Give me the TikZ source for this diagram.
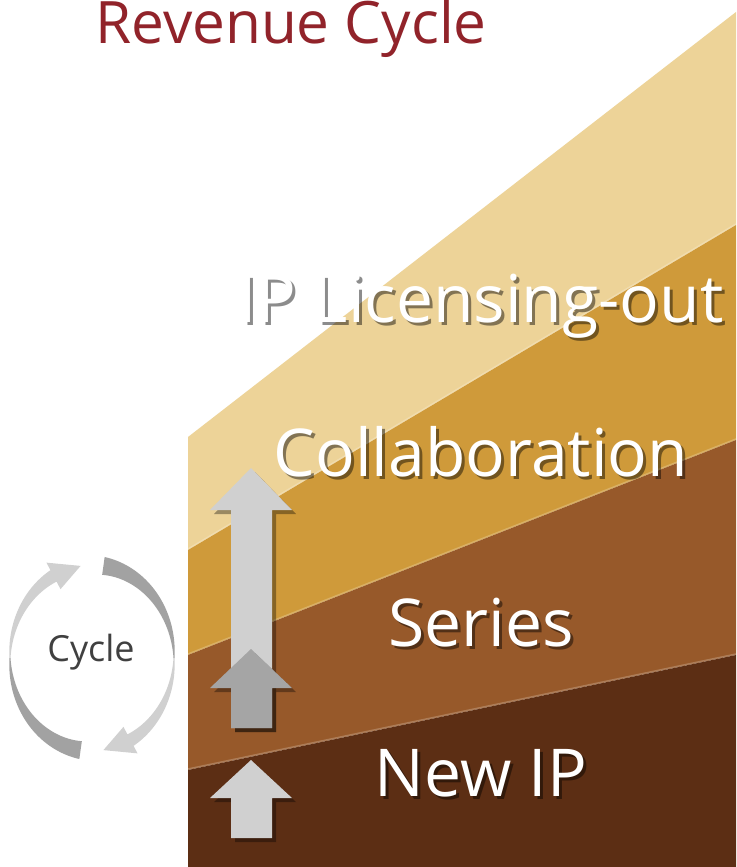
\documentclass[tikz,border=0pt]{standalone}
\usepackage{fontspec}
\setmainfont{Open Sans}
\usetikzlibrary{calc}

\definecolor{titlered}{RGB}{145,35,42}
\definecolor{bandlight}{RGB}{237,211,152}
\definecolor{bandgold}{RGB}{207,154,58}
\definecolor{bandbrown}{RGB}{151,89,42}
\definecolor{banddark}{RGB}{92,46,20}
\definecolor{arrowlight}{RGB}{208,208,208}
\definecolor{arrowdark}{RGB}{165,165,165}
\definecolor{cycledark}{RGB}{162,162,162}
\definecolor{cyclelight}{RGB}{208,208,208}

% white label with a soft dark copy behind it
\newcommand\castlabel[1]{%
  \makebox[0pt][l]{\kern3pt\raisebox{-3pt}{%
    \pgfsetfillopacity{0.45}\color{black}#1\pgfsetfillopacity{1}}}%
  \color{white}#1}

\begin{document}
\begin{tikzpicture}[x=1pt, y=-1pt,
    stage/.style={anchor=base, inner sep=0pt,
      font=\fontsize{66}{70}\selectfont},
    blockarrow/.style={fill=#1},
    arrowshadow/.style={fill=black, opacity=0.35},
    bevel/.style={draw=white, opacity=0.22, line width=1.5pt}
  ]
  \useasboundingbox (0,0) rectangle (736,867);
  \fill[white] (0,0) rectangle (736,867);

  % Title
  \node[text=titlered, anchor=base west, inner sep=0pt,
    font=\fontsize{58.5}{60}\selectfont] (title) at (95,44) {Revenue Cycle};

  % Rising bands
  \begin{scope}
    \clip (0,0) rectangle (736,867);
    \fill[bandlight] (188,437) -- (736,12) -- (736,225) -- (188,550) -- cycle;
    \fill[bandgold] (188,550) -- (736,225) -- (736,440) -- (188,655) -- cycle;
    \fill[bandbrown] (188,655) -- (736,440) -- (736,655) -- (188,770) -- cycle;
    \fill[banddark] (188,770) -- (736,655) -- (736,867) -- (188,867) -- cycle;
    \draw[bevel] (188,549) -- (736,224);
    \draw[bevel] (188,654) -- (736,439);
    \draw[bevel] (188,769) -- (736,654);
  \end{scope}

  % Block arrows (shadow first)
  \fill[arrowshadow] (255,472) -- (296,514) -- (276,514) -- (276,732)
    -- (235,732) -- (235,514) -- (214,514) -- cycle;
  \fill[blockarrow=arrowlight] (251,468) -- (292,510) -- (272,510) -- (272,728)
    -- (231,728) -- (231,510) -- (210,510) -- cycle;
  \fill[arrowshadow] (255,653) -- (296,692) -- (276,692) -- (276,732)
    -- (235,732) -- (235,692) -- (214,692) -- cycle;
  \fill[blockarrow=arrowdark] (251,649) -- (292,688) -- (272,688) -- (272,728)
    -- (231,728) -- (231,688) -- (210,688) -- cycle;
  \fill[arrowshadow] (255,764) -- (296,802) -- (276,802) -- (276,842)
    -- (235,842) -- (235,802) -- (214,802) -- cycle;
  \fill[blockarrow=arrowlight] (251,760) -- (292,798) -- (272,798) -- (272,838)
    -- (231,838) -- (231,798) -- (210,798) -- cycle;

  % Stage labels
  \node[stage] (licensing) at (481,322) {\castlabel{IP Licensing-out}};
  \node[stage] (collab) at (481,476) {\castlabel{Collaboration}};
  \node[stage] (series) at (481,646) {\castlabel{Series}};
  \node[stage] (newip) at (481,796) {\castlabel{New IP}};

  % Cycle ring: tapered halves with arrow heads
  \fill[cycledark] plot[domain=82:0, samples=40, variable=\t]
      ({92+(82.5+8.5*\t/82)*cos(\t)}, {658-(93.5+8.5*\t/82)*sin(\t)})
    -- plot[domain=0:82, samples=40, variable=\t]
      ({92+(81.5-8.5*\t/82)*cos(\t)}, {658-(92.5-8.5*\t/82)*sin(\t)}) -- cycle;
  \fill[cyclelight] plot[domain=0:-62, samples=40, variable=\t]
      ({92+(82.5-6*\t/62)*cos(\t)}, {658-(93.5-6*\t/62)*sin(\t)})
    -- ({92+97*cos(-62)}, {658-108*sin(-62)})
    -- ({92+82*cos(-82)}, {658-93*sin(-82)})
    -- ({92+67*cos(-62)}, {658-78*sin(-62)})
    -- plot[domain=-62:0, samples=40, variable=\t]
      ({92+(81.5+6*\t/62)*cos(\t)}, {658-(92.5+6*\t/62)*sin(\t)}) -- cycle;
  \fill[cycledark] plot[domain=262:180, samples=40, variable=\t]
      ({92+(82.5+8.5*(\t-180)/82)*cos(\t)}, {658-(93.5+8.5*(\t-180)/82)*sin(\t)})
    -- plot[domain=180:262, samples=40, variable=\t]
      ({92+(81.5-8.5*(\t-180)/82)*cos(\t)}, {658-(92.5-8.5*(\t-180)/82)*sin(\t)}) -- cycle;
  \fill[cyclelight] plot[domain=180:118, samples=40, variable=\t]
      ({92+(82.5+6*(180-\t)/62)*cos(\t)}, {658-(93.5+6*(180-\t)/62)*sin(\t)})
    -- ({92+97*cos(118)}, {658-108*sin(118)})
    -- ({92+82*cos(98)}, {658-93*sin(98)})
    -- ({92+67*cos(118)}, {658-78*sin(118)})
    -- plot[domain=118:180, samples=40, variable=\t]
      ({92+(81.5-6*(180-\t)/62)*cos(\t)}, {658-(92.5-6*(180-\t)/62)*sin(\t)}) -- cycle;
  \node[text=black!75, inner sep=0pt, font=\fontsize{36}{40}\selectfont]
    (cycle) at (91,652) {Cycle};
\end{tikzpicture}
\end{document}
